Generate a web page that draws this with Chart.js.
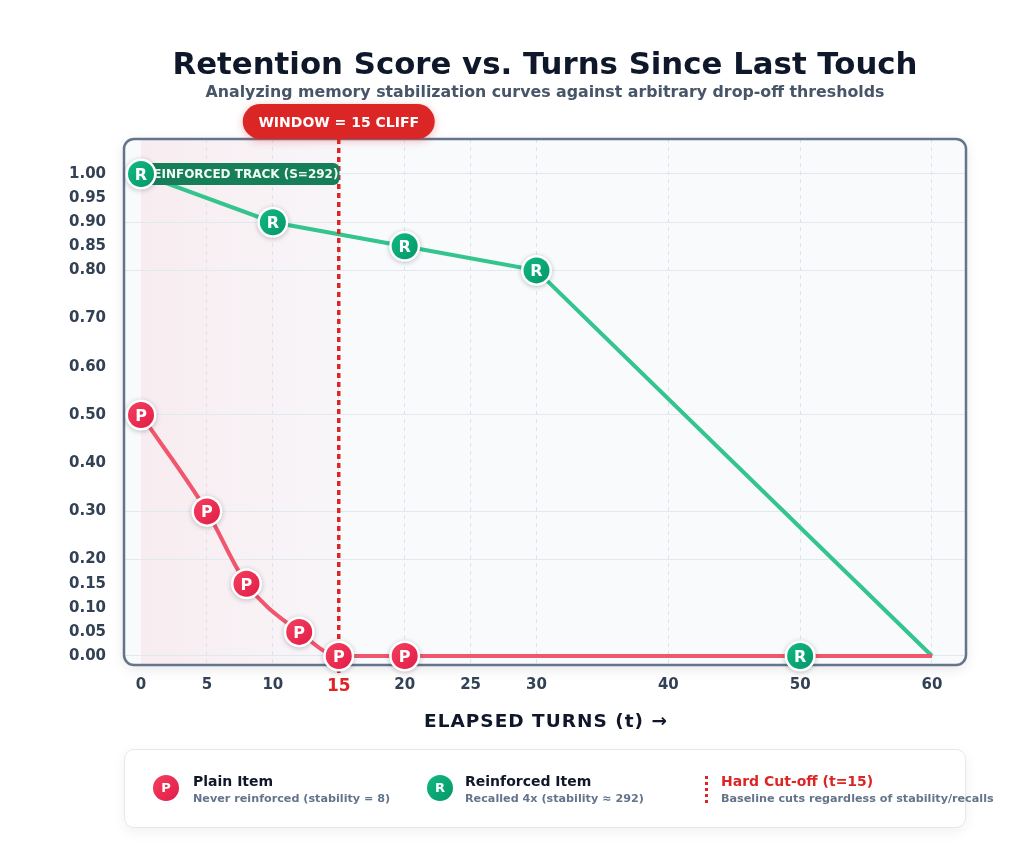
<!DOCTYPE html>
<html>
<head>
<meta charset="utf-8">
<script src="https://cdn.jsdelivr.net/npm/chart.js@4.4.0/dist/chart.umd.min.js"></script>
<style>
  html, body { margin: 0; padding: 0; background: #ffffff; }
  body { width: 1024px; height: 866px; position: relative; overflow: hidden; font-family: "DejaVu Sans", sans-serif; }
  #wrap { position: absolute; left: 0; top: 0; width: 1024px; height: 740px; }
  .legend { position: absolute; left: 124px; top: 749px; width: 840px; height: 77px; background: #fff;
            border: 1px solid #e2e8f0; border-radius: 10px; box-shadow: 0 4px 14px rgba(15, 23, 42, 0.06); }
  .badge { position: absolute; top: 25px; width: 26px; height: 26px; border-radius: 50%; color: #fff;
           font-weight: bold; font-size: 13px; line-height: 26px; text-align: center; }
  .badge.p { background: linear-gradient(135deg, #f43f5e, #e11d48); }
  .badge.r { background: linear-gradient(135deg, #10b981, #059669); }
  .t1 { position: absolute; top: 23px; white-space: nowrap; font-weight: bold; font-size: 14px; line-height: 16px; color: #0f172a; }
  .t2 { position: absolute; top: 42px; white-space: nowrap; font-weight: bold; font-size: 11.2px; line-height: 13px; color: #64748b; }
  .cut { position: absolute; top: 26px; height: 27px; border-left: 3px dotted #dc2626; }
</style>
</head>
<body>
<div id="wrap"><canvas id="chart"></canvas></div>

<div class="legend">
  <div class="badge p" style="left:28px">P</div>
  <div class="t1" style="left:68px">Plain Item</div>
  <div class="t2" style="left:68px">Never reinforced (stability = 8)</div>

  <div class="badge r" style="left:302px">R</div>
  <div class="t1" style="left:340px">Reinforced Item</div>
  <div class="t2" style="left:340px">Recalled 4x (stability ≈ 292)</div>

  <div class="cut" style="left:580px"></div>
  <div class="t1" style="left:596px;color:#dc2626">Hard Cut-off (t=15)</div>
  <div class="t2" style="left:596px">Baseline cuts regardless of stability/recalls</div>
</div>

<script>
// tick values
const xTicks = [0, 5, 10, 15, 20, 25, 30, 40, 50, 60];
const yTicks = [0, 0.05, 0.1, 0.15, 0.2, 0.3, 0.4, 0.5, 0.6, 0.7, 0.8, 0.85, 0.9, 0.95, 1.0];
const yGridAt = [0, 0.2, 0.3, 0.5, 0.8, 0.9, 1.0];

// plain item (never reinforced)
const plainTurns  = [0, 5, 8, 12, 15, 20, 60];
const plainScores = [0.5, 0.3, 0.15, 0.05, 0, 0, 0];
const plainMarked = [true, true, true, true, true, true, false];

// reinforced item
const reinforcedTurns  = [0, 10, 20, 30, 60];
const reinforcedScores = [1.0, 0.9, 0.85, 0.8, 0];
const reinforcedMarked = [true, true, true, true, false];

// extra recall marker on the baseline
const recallTurns  = [50];
const recallScores = [0];

const cutoffTurn = 15;

const FONT = '"DejaVu Sans", sans-serif';
const toXY = (xs, ys) => xs.map((x, i) => ({ x: x, y: ys[i] }));

// frame, band, cut-off, labels and markers
const decor = {
    id: 'decor',
    beforeDraw(chart) {
        const { ctx, chartArea: a, scales: { x } } = chart;
        ctx.save();
        ctx.shadowColor = 'rgba(15,23,42,0.10)';
        ctx.shadowBlur = 14;
        ctx.shadowOffsetY = 4;
        ctx.beginPath();
        ctx.roundRect(a.left, a.top, a.width, a.height, 10);
        ctx.fillStyle = '#f8fafc';
        ctx.fill();
        ctx.restore();

        ctx.save();
        ctx.beginPath();
        ctx.roundRect(a.left, a.top, a.width, a.height, 10);
        ctx.clip();
        const x0 = x.getPixelForValue(0), x1 = x.getPixelForValue(cutoffTurn);
        const g = ctx.createLinearGradient(x0, 0, x1, 0);
        g.addColorStop(0, 'rgba(244,63,94,0.075)');
        g.addColorStop(1, 'rgba(244,63,94,0.025)');
        ctx.fillStyle = g;
        ctx.fillRect(x0, a.top, x1 - x0, a.height);
        ctx.restore();
    },
    beforeDatasetsDraw(chart) {
        const { ctx, chartArea: a } = chart;
        ctx.save();
        ctx.beginPath();
        ctx.roundRect(a.left, a.top, a.width, a.height, 10);
        ctx.lineWidth = 2.5;
        ctx.strokeStyle = '#64748b';
        ctx.stroke();
        ctx.restore();
    },
    afterDatasetsDraw(chart) {
        const { ctx, chartArea: a, scales: { x, y } } = chart;
        const cx = x.getPixelForValue(cutoffTurn);

        // hard cut-off
        ctx.save();
        ctx.strokeStyle = '#dc2626';
        ctx.lineWidth = 3.5;
        ctx.setLineDash([5, 4]);
        ctx.beginPath();
        ctx.moveTo(cx, a.top);
        ctx.lineTo(cx, a.bottom + 8);
        ctx.stroke();
        ctx.restore();

        // reinforced track label
        ctx.save();
        ctx.font = 'bold 12px ' + FONT;
        const lx = x.getPixelForValue(0), ly = y.getPixelForValue(1.0);
        const txt = 'REINFORCED TRACK (S=292)';
        const tw = ctx.measureText(txt).width;
        ctx.fillStyle = '#177e5a';
        ctx.beginPath();
        ctx.roundRect(lx - 4, ly - 11, tw + 8, 22, 6);
        ctx.fill();
        ctx.fillStyle = '#f0fdf4';
        ctx.textBaseline = 'middle';
        ctx.fillText(txt, lx + 3, ly + 1);
        ctx.restore();

        // markers
        for (let d = chart.data.datasets.length - 1; d >= 0; d--) {
            const ds = chart.data.datasets[d];
            const meta = chart.getDatasetMeta(d);
            meta.data.forEach((pt, i) => {
                if (!ds.marked[i]) return;
                ctx.save();
                ctx.shadowColor = 'rgba(15,23,42,0.25)';
                ctx.shadowBlur = 5;
                ctx.shadowOffsetY = 1;
                ctx.beginPath();
                ctx.arc(pt.x, pt.y, 15.5, 0, Math.PI * 2);
                ctx.fillStyle = '#ffffff';
                ctx.fill();
                ctx.restore();
                ctx.save();
                const g = ctx.createLinearGradient(pt.x - 13, pt.y - 13, pt.x + 13, pt.y + 13);
                g.addColorStop(0, ds.markerLight);
                g.addColorStop(1, ds.markerDark);
                ctx.beginPath();
                ctx.arc(pt.x, pt.y, 13, 0, Math.PI * 2);
                ctx.fillStyle = g;
                ctx.fill();
                ctx.fillStyle = '#ffffff';
                ctx.font = 'bold 16px ' + FONT;
                ctx.textAlign = 'center';
                ctx.textBaseline = 'alphabetic';
                ctx.fillText(ds.letter, pt.x, pt.y + 6);
                ctx.restore();
            });
        }

        // window pill
        ctx.save();
        ctx.font = 'bold 14px ' + FONT;
        const pill = 'WINDOW = 15 CLIFF';
        const pw = 192, ph = 35;
        ctx.shadowColor = 'rgba(220,38,38,0.30)';
        ctx.shadowBlur = 8;
        ctx.shadowOffsetY = 2;
        ctx.fillStyle = '#dc2626';
        ctx.beginPath();
        ctx.roundRect(cx - pw / 2, a.top - 35, pw, ph, 17.5);
        ctx.fill();
        ctx.shadowColor = 'transparent';
        ctx.fillStyle = '#ffffff';
        ctx.textAlign = 'center';
        ctx.fillText(pill, cx, a.top - 12);
        ctx.restore();
    },
    afterDraw(chart) {
        const { ctx, chartArea: a } = chart;
        const mid = (a.left + a.right) / 2;
        ctx.save();
        ctx.textAlign = 'center';
        ctx.fillStyle = '#0f172a';
        ctx.font = 'bold 30.8px ' + FONT;
        ctx.fillText('Retention Score vs. Turns Since Last Touch', mid, 73.5);
        ctx.fillStyle = '#475569';
        ctx.font = 'bold 15.8px ' + FONT;
        ctx.fillText('Analyzing memory stabilization curves against arbitrary drop-off thresholds', mid, 96.5);
        ctx.fillStyle = '#0f172a';
        ctx.font = 'bold 18.5px ' + FONT;
        ctx.letterSpacing = '1px';
        ctx.fillText('ELAPSED TURNS (t) \u2192', mid + 1, 727);
        ctx.restore();
    }
};

new Chart(document.getElementById('chart'), {
    type: 'line',
    data: {
        datasets: [
            {
                label: 'Plain Item',
                data: toXY(plainTurns, plainScores),
                marked: plainMarked,
                letter: 'P',
                markerLight: '#f43f5e',
                markerDark: '#e11d48',
                borderColor: '#f0566e',
                borderWidth: 4,
                cubicInterpolationMode: 'monotone',
                tension: 0.4,
                pointRadius: 0,
                clip: false
            },
            {
                label: 'Recall',
                data: toXY(recallTurns, recallScores),
                marked: recallTurns.map(() => true),
                letter: 'R',
                markerLight: '#10b981',
                markerDark: '#059669',
                showLine: false,
                pointRadius: 0,
                clip: false
            },
            {
                label: 'Reinforced Item',
                data: toXY(reinforcedTurns, reinforcedScores),
                marked: reinforcedMarked,
                letter: 'R',
                markerLight: '#10b981',
                markerDark: '#059669',
                borderColor: '#34c48e',
                borderWidth: 4,
                tension: 0,
                pointRadius: 0,
                clip: false
            }
        ]
    },
    options: {
        responsive: true,
        maintainAspectRatio: false,
        animation: false,
        layout: { padding: { left: 24, right: 58, top: 139, bottom: 0 } },
        plugins: {
            legend: { display: false },
            tooltip: { enabled: false }
        },
        scales: {
            x: {
                type: 'linear',
                min: -1.29,
                max: 62.58,
                afterBuildTicks: (axis) => { axis.ticks = xTicks.map(v => ({ value: v })); },
                afterFit: (axis) => { axis.height = 75; },
                ticks: {
                    padding: 11,
                    autoSkip: false,
                    maxRotation: 0,
                    callback: (v) => String(v),
                    color: (c) => c.tick && c.tick.value === cutoffTurn ? '#dc2626' : '#334155',
                    font: (c) => ({ family: FONT, weight: 'bold', size: c.tick && c.tick.value === cutoffTurn ? 17 : 15 })
                },
                grid: {
                    lineWidth: 1,
                    drawTicks: false,
                    color: (c) => c.tick && c.tick.value === 0 ? 'rgba(0,0,0,0)' : '#dde3ec'
                },
                border: { display: false, dash: [4, 4] }
            },
            y: {
                type: 'linear',
                min: -0.0187,
                max: 1.0726,
                afterBuildTicks: (axis) => { axis.ticks = yTicks.map(v => ({ value: v })); },
                afterFit: (axis) => { axis.width = 100; },
                ticks: {
                    padding: 18,
                    autoSkip: false,
                    callback: (v) => v.toFixed(2),
                    color: '#334155',
                    font: { family: FONT, weight: 'bold', size: 15 }
                },
                grid: {
                    drawTicks: false,
                    lineWidth: 1,
                    color: (c) => c.tick && yGridAt.some(g => Math.abs(g - c.tick.value) < 1e-6) ? '#e2e8f0' : 'rgba(0,0,0,0)'
                },
                border: { display: false }
            }
        }
    },
    plugins: [decor]
});
</script>
</body>
</html>
